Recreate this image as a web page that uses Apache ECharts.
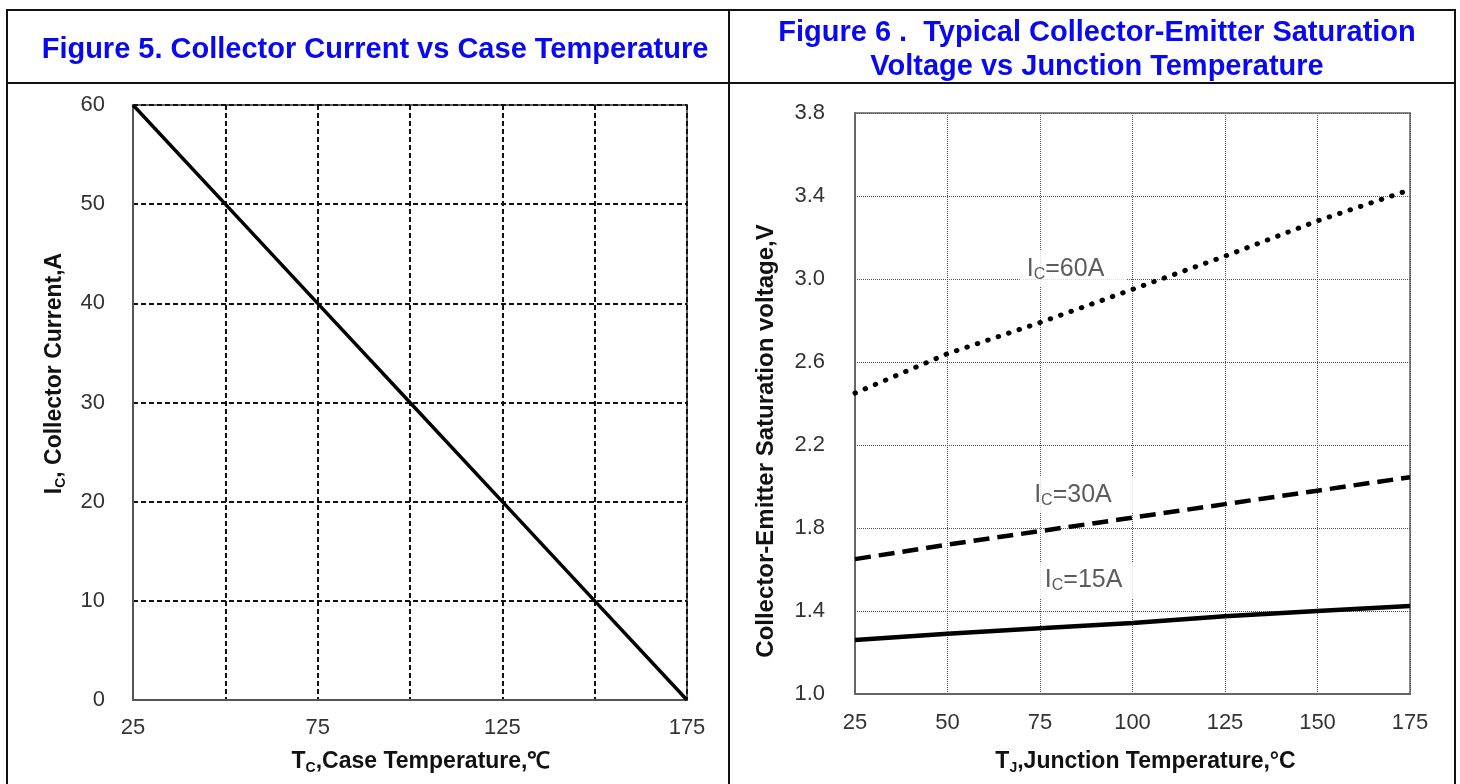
<!DOCTYPE html>
<html>
<head>
<meta charset="utf-8">
<title>IGBT characteristics</title>
<script src="https://cdn.jsdelivr.net/npm/echarts@6/dist/echarts.min.js"></script>
<style>
  html, body { margin: 0; padding: 0; background: #fff; }
  #chart { width: 1460px; height: 784px; }
</style>
</head>
<body>
<div id="chart"></div>
<script>
// Figure 5: collector current derating vs case temperature
const caseTemp = [25, 50, 75, 100, 125, 150, 175];
const collectorCurrent = [60, 50, 40, 30, 20, 10, 0];
const fig5XLabels = [25, 75, 125, 175];

// Figure 6: Vce(sat) vs junction temperature, three collector currents
const junctionTemp = [25, 50, 75, 100, 125, 150, 175];
const vce60A = [2.45, 2.64, 2.79, 2.95, 3.11, 3.28, 3.43];
const vce30A = [1.65, 1.72, 1.785, 1.85, 1.915, 1.98, 2.045];
const vce15A = [1.26, 1.29, 1.317, 1.342, 1.375, 1.40, 1.424];

// Curve captions: [Tj, Vce, current text]
const curveCaptions = [
  [81.9, 3.05, '=60A'],
  [83.9, 1.96, '=30A'],
  [86.8, 1.55, '=15A']
];

const FONT = '"Liberation Sans", Arial, sans-serif';
const BLUE = '#0808f2';
const TICK = 22;
const NAME = 23;

const pairs = (xs, ys) => xs.map((x, i) => [x, ys[i]]);

const capRich = {
  m: { fontSize: 25, color: '#333', fontFamily: FONT, lineHeight: 28, verticalAlign: 'middle' },
  s: { fontSize: 16, color: '#333', fontFamily: FONT, lineHeight: 16, verticalAlign: 'bottom' }
};
const nameRich = {
  b: { fontSize: NAME, fontWeight: 'bold', color: '#111', fontFamily: FONT, lineHeight: 26, verticalAlign: 'middle' },
  s: { fontSize: 14, fontWeight: 'bold', color: '#111', fontFamily: FONT, lineHeight: 13, verticalAlign: 'bottom' }
};

// caption box padding: wider on the right so grid lines stay hidden past the text
const capPad = [4, 22, 4, 7];

const chart = echarts.init(document.getElementById('chart'), null, { renderer: 'canvas' });

const option = {
  backgroundColor: '#fff',
  animation: false,
  title: [
    {
      text: 'Figure 5. Collector Current vs Case Temperature',
      left: 370, top: 29, textAlign: 'center',
      textStyle: { color: BLUE, fontSize: 29, fontWeight: 'bold', fontFamily: FONT, lineHeight: 32 }
    },
    {
      text: 'Figure 6 .  Typical Collector-Emitter Saturation\nVoltage vs Junction Temperature',
      left: 1092, top: 11, textAlign: 'center',
      textStyle: { color: BLUE, fontSize: 29, fontWeight: 'bold', fontFamily: FONT, lineHeight: 34 }
    }
  ],
  graphic: [
    { type: 'rect', shape: { x: 7, y: 10, width: 1448, height: 800 }, style: { fill: 'none', stroke: '#111', lineWidth: 2 }, silent: true },
    { type: 'line', shape: { x1: 7, y1: 83, x2: 1455, y2: 83 }, style: { stroke: '#111', lineWidth: 2 }, silent: true },
    { type: 'line', shape: { x1: 729, y1: 10, x2: 729, y2: 784 }, style: { stroke: '#111', lineWidth: 2 }, silent: true }
  ],
  grid: [
    { left: 133, top: 105, width: 554, height: 595, show: true, borderColor: '#666', borderWidth: 2, backgroundColor: 'transparent' },
    { left: 855, top: 113, width: 555, height: 581, show: true, borderColor: '#888', borderWidth: 2, backgroundColor: 'transparent' }
  ],
  xAxis: [
    {
      gridIndex: 0, type: 'value', min: 25, max: 175, interval: 25,
      axisLine: { show: true, lineStyle: { color: '#555', width: 2 } },
      axisTick: { show: false },
      axisLabel: {
        margin: 17, fontSize: TICK, color: '#333', fontFamily: FONT,
        formatter: v => (fig5XLabels.includes(v) ? String(v) : '')
      },
      splitLine: { show: true, lineStyle: { color: '#111', width: 2, type: [5, 3] } },
      name: '{b|T}{s|C}{b|,Case Temperature,℃}',
      nameLocation: 'middle', nameGap: 49,
      nameTextStyle: { rich: nameRich, padding: [0, 0, 0, 22] }
    },
    {
      gridIndex: 1, type: 'value', min: 25, max: 175, interval: 25,
      axisLine: { show: true, lineStyle: { color: '#666', width: 2 } },
      axisTick: { show: false },
      axisLabel: { margin: 18, fontSize: TICK, color: '#333', fontFamily: FONT },
      splitLine: { show: true, lineStyle: { color: '#555', width: 1, type: [1, 1] } },
      name: '{b|T}{s|J}{b|,Junction Temperature,°C}',
      nameLocation: 'middle', nameGap: 55,
      nameTextStyle: { rich: nameRich, padding: [0, 0, 0, 26] }
    }
  ],
  yAxis: [
    {
      gridIndex: 0, type: 'value', min: 0, max: 60, interval: 10,
      axisLine: { show: true, lineStyle: { color: '#555', width: 2 } },
      axisTick: { show: false },
      axisLabel: { margin: 28, fontSize: TICK, color: '#333', fontFamily: FONT },
      splitLine: { show: true, lineStyle: { color: '#111', width: 2, type: [5, 3] } },
      name: '{b|I}{s|C}{b|, Collector Current,A}',
      nameLocation: 'middle', nameGap: 65, nameRotate: 90,
      nameTextStyle: { rich: nameRich, padding: [0, 0, 0, 58] }
    },
    {
      gridIndex: 1, type: 'value', min: 1.0, max: 3.8, interval: 0.4,
      axisLine: { show: true, lineStyle: { color: '#666', width: 2 } },
      axisTick: { show: false },
      axisLabel: { margin: 30, fontSize: TICK, color: '#333', fontFamily: FONT, formatter: v => v.toFixed(1) },
      splitLine: { show: true, lineStyle: { color: '#555', width: 1, type: [1, 1] } },
      name: 'Collector-Emitter Saturation voltage,V',
      nameLocation: 'middle', nameGap: 77, nameRotate: 90,
      nameTextStyle: { fontSize: 24, fontWeight: 'bold', color: '#111', fontFamily: FONT, padding: [0, 75, 0, 0] }
    }
  ],
  series: [
    {
      type: 'line', xAxisIndex: 0, yAxisIndex: 0,
      data: pairs(caseTemp, collectorCurrent),
      symbol: 'none', lineStyle: { color: '#000', width: 3.5 }
    },
    {
      type: 'line', xAxisIndex: 1, yAxisIndex: 1, z: 4,
      data: pairs(junctionTemp, vce60A),
      symbol: 'none', lineStyle: { color: '#000', width: 5, type: [0.5, 10.5], cap: 'round' }
    },
    {
      type: 'line', xAxisIndex: 1, yAxisIndex: 1, z: 4,
      data: pairs(junctionTemp, vce30A),
      symbol: 'none', lineStyle: { color: '#000', width: 4.5, type: [16, 8] }
    },
    {
      type: 'line', xAxisIndex: 1, yAxisIndex: 1, z: 4,
      data: pairs(junctionTemp, vce15A),
      symbol: 'none', lineStyle: { color: '#000', width: 4.5 }
    },
    {
      type: 'scatter', xAxisIndex: 1, yAxisIndex: 1, z: 3,
      symbolSize: 0,
      data: curveCaptions.map(c => ({ value: [c[0], c[1]], text: c[2] })),
      label: {
        show: true, position: 'inside',
        backgroundColor: '#fff', padding: capPad,
        offset: [(capPad[1] - capPad[3]) / 2, (capPad[2] - capPad[0]) / 2],
        formatter: p => '{m|I}{s|C}{m|' + p.data.text + '}',
        rich: capRich
      }
    }
  ]
};

chart.setOption(option);
</script>
</body>
</html>
